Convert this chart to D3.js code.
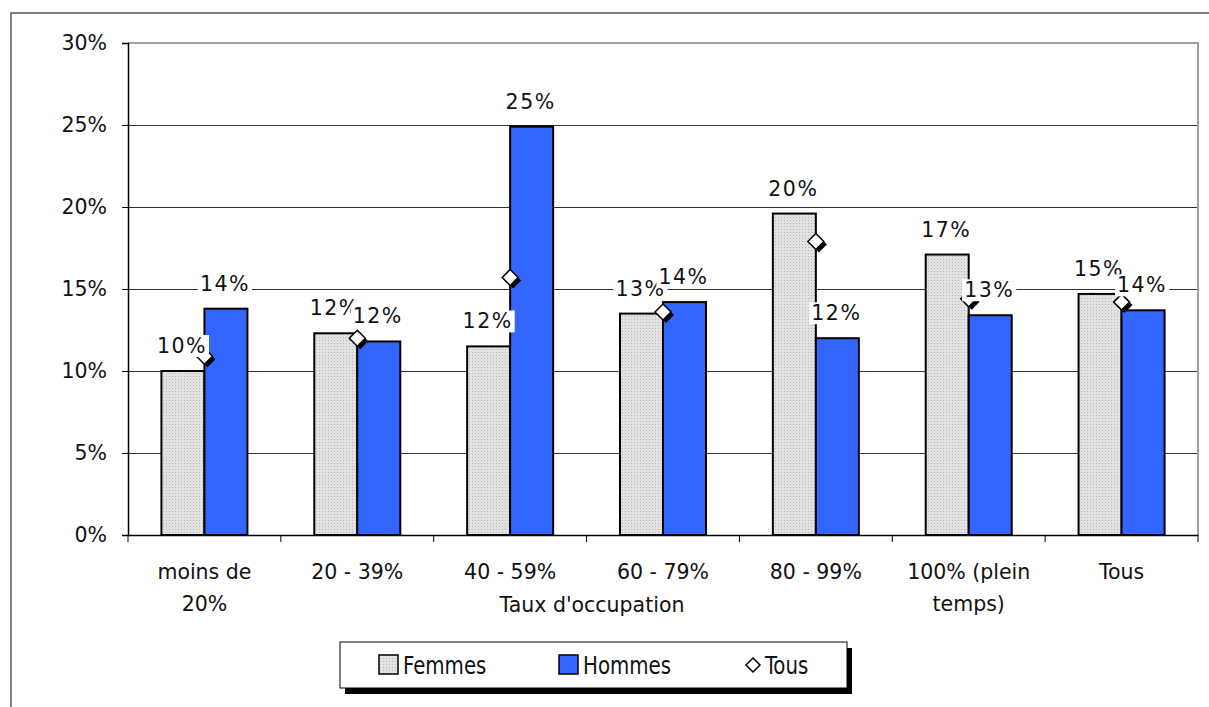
<!DOCTYPE html>
<html>
<head>
<meta charset="utf-8">
<script src="https://cdn.jsdelivr.net/npm/d3@7"></script>
<style>
  body { margin: 0; background: #fff; }
  svg { display: block; font-family: "DejaVu Sans", Verdana, sans-serif; }
</style>
</head>
<body>
<svg id="chart" width="1209" height="707"></svg>
<script>
const categories = [["moins de", "20%"], ["20 - 39%"], ["40 - 59%"], ["60 - 79%"], ["80 - 99%"], ["100% (plein", "temps)"], ["Tous"]]
const femmes = [10.0, 12.3, 11.5, 13.5, 19.6, 17.1, 14.7]
const hommes = [13.8, 11.8, 24.9, 14.2, 12.0, 13.4, 13.7]
const tous = [10.9, 12.0, 15.7, 13.6, 17.9, 14.4, 14.2]
const femmesLabels = ["10%", "12%", "12%", "13%", "20%", "17%", "15%"]
const hommesLabels = ["14%", "12%", "25%", "14%", "12%", "13%", "14%"]
const yTicks = [0, 5, 10, 15, 20, 25, 30]

const svg = d3.select("#chart")
const plot = {left: 128, right: 1198, top: 43, bottom: 535}
const barW = 43
const fs = 20.5

// pattern for the grey bars
const defs = svg.append("defs")
const pat = defs.append("pattern")
  .attr("id", "dots")
  .attr("width", 3).attr("height", 3)
  .attr("patternUnits", "userSpaceOnUse")
pat.append("rect").attr("width", 3).attr("height", 3).attr("fill", "#e2e2e2")
pat.append("rect").attr("x", 1).attr("y", 1).attr("width", 1).attr("height", 1).attr("fill", "#b8b8b8")

// outer frame
svg.append("path")
  .attr("d", "M11,707V13H1209")
  .attr("fill", "none")
  .attr("stroke", "#808080")
  .attr("stroke-width", 2)

const keys = categories.map((d, i) => i)
const x = d3.scaleBand().domain(keys).range([plot.left, plot.right])
const bw = x.bandwidth()
const xs = d3.scaleBand().domain(["F", "H"]).range([0, bw])
  .paddingInner(0).paddingOuter((bw / barW - 2) / 2)
const y = d3.scaleLinear().domain([0, 30]).range([plot.bottom, plot.top])

// gridlines
svg.append("g")
  .selectAll("line")
  .data(yTicks.filter(t => t > 0 && t < 30))
  .enter().append("line")
  .attr("x1", plot.left).attr("x2", plot.right)
  .attr("y1", d => y(d) + 0.5).attr("y2", d => y(d) + 0.5)
  .attr("stroke", "#333")
  .attr("stroke-width", 1)

// plot area border (top/right)
svg.append("path")
  .attr("d", `M${plot.left},${plot.top}H${plot.right}V${plot.bottom}`)
  .attr("fill", "none")
  .attr("stroke", "#a0a0a0")
  .attr("stroke-width", 2)

// y axis
const yAxis = svg.append("g")
  .attr("transform", `translate(${plot.left},0)`)
  .call(d3.axisLeft(y).tickValues(yTicks).tickFormat(d => d + "%").tickSize(6).tickPadding(15))
yAxis.select(".domain").attr("stroke", "#000").attr("stroke-width", 1.5)
yAxis.selectAll(".tick line").attr("stroke", "#000")
yAxis.selectAll("text").attr("font-size", fs).attr("fill", "#111").attr("font-family", "DejaVu Sans")

// x axis
const xAxis = svg.append("g")
  .attr("transform", `translate(0,${plot.bottom})`)
  .call(d3.axisBottom(x).tickSize(0).tickFormat(""))
xAxis.select(".domain").attr("stroke", "#000").attr("stroke-width", 1.5)
xAxis.selectAll(".tick").remove()
xAxis.selectAll("line.sep")
  .data(d3.range(keys.length + 1))
  .enter().append("line")
  .attr("class", "sep")
  .attr("x1", i => plot.left + i * bw).attr("x2", i => plot.left + i * bw)
  .attr("y1", 0).attr("y2", 7)
  .attr("stroke", "#000")

const catText = svg.append("g")
  .selectAll("text")
  .data(categories)
  .enter().append("text")
  .attr("x", (d, i) => x(i) + bw / 2)
  .attr("y", 579)
  .attr("text-anchor", "middle")
  .attr("font-size", fs)
  .attr("fill", "#111")
catText.each(function (d) {
  const t = d3.select(this)
  d.forEach((line, j) => {
    t.append("tspan").attr("x", t.attr("x")).attr("dy", j === 0 ? 0 : 32).text(line)
  })
})

svg.append("text")
  .attr("x", 592)
  .attr("y", 612)
  .attr("text-anchor", "middle")
  .attr("font-size", fs)
  .attr("fill", "#111")
  .text("Taux d'occupation")

// bars
const bars = svg.append("g")
bars.selectAll("rect.f")
  .data(femmes)
  .enter().append("rect")
  .attr("class", "f")
  .attr("x", (d, i) => x(i) + xs("F"))
  .attr("y", d => y(d))
  .attr("width", xs.bandwidth())
  .attr("height", d => y(0) - y(d))
  .attr("fill", "url(#dots)")
  .attr("stroke", "#000")
  .attr("stroke-width", 2)
bars.selectAll("rect.h")
  .data(hommes)
  .enter().append("rect")
  .attr("class", "h")
  .attr("x", (d, i) => x(i) + xs("H"))
  .attr("y", d => y(d))
  .attr("width", xs.bandwidth())
  .attr("height", d => y(0) - y(d))
  .attr("fill", "#3366ff")
  .attr("stroke", "#000")
  .attr("stroke-width", 2)

// Tous markers
const diamond = "M0,-8L8,0L0,8L-8,0Z"
const marks = svg.append("g")
  .selectAll("g")
  .data(tous)
  .enter().append("g")
  .attr("transform", (d, i) => `translate(${x(i) + bw / 2},${y(d)})`)
marks.append("path").attr("d", diamond).attr("transform", "translate(3,3)").attr("fill", "#000")
marks.append("path").attr("d", diamond).attr("fill", "#fff").attr("stroke", "#000").attr("stroke-width", 1.5)

// data labels with white background
function addLabels(values, labels, key) {
  const g = svg.append("g")
  values.forEach((v, i) => {
    const lg = g.append("g")
    const t = lg.append("text")
      .attr("x", x(i) + xs(key) + xs.bandwidth() / 2 - 1)
      .attr("y", y(v) - 18)
      .attr("text-anchor", "middle")
      .attr("font-size", fs)
      .attr("letter-spacing", 1.5)
      .attr("fill", "#111")
      .text(labels[i])
    const b = t.node().getBBox()
    lg.insert("rect", "text")
      .attr("x", b.x - 2).attr("y", b.y + 1)
      .attr("width", b.width + 4).attr("height", b.height - 2)
      .attr("fill", "#fff")
  })
}
addLabels(femmes, femmesLabels, "F")
addLabels(hommes, hommesLabels, "H")

// legend
const legend = svg.append("g").attr("transform", "translate(340,642)")
legend.append("rect").attr("x", 5).attr("y", 6).attr("width", 507).attr("height", 46).attr("fill", "#000")
legend.append("rect").attr("width", 507).attr("height", 46).attr("fill", "#fff").attr("stroke", "#000").attr("stroke-width", 1)
const legItems = [
  {name: "Femmes", x: 39, fill: "url(#dots)"},
  {name: "Hommes", x: 219, fill: "#3366ff"}
]
function legText(tx, label) {
  legend.append("text")
    .attr("transform", `translate(${tx},32) scale(1,1.15)`)
    .attr("font-family", "DejaVu Sans Condensed, DejaVu Sans")
    .attr("font-size", 22)
    .attr("fill", "#111")
    .text(label)
}
legItems.forEach(it => {
  legend.append("rect").attr("x", it.x).attr("y", 13).attr("width", 19).attr("height", 19)
    .attr("fill", it.fill).attr("stroke", "#000").attr("stroke-width", 1.5)
  legText(it.x + 24, it.name)
})
legend.append("path").attr("d", "M0,-7L7,0L0,7L-7,0Z").attr("transform", "translate(413,23)")
  .attr("fill", "#fff").attr("stroke", "#000").attr("stroke-width", 1.5)
legText(425, "Tous")
</script>
</body>
</html>
